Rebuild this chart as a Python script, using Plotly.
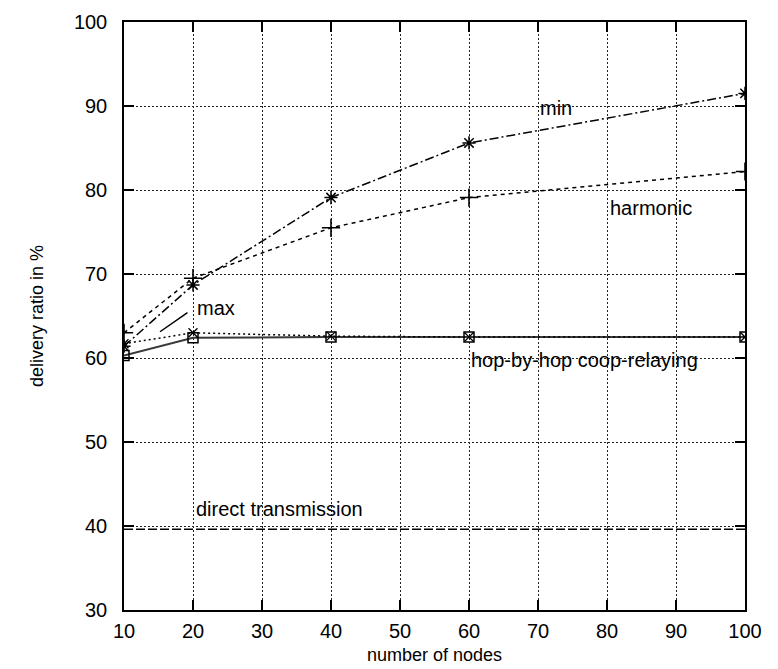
import plotly.graph_objects as go

nodes = [10, 20, 40, 60, 100]
min_vals = [61.4, 68.7, 79.1, 85.6, 91.5]
harmonic_vals = [63.0, 69.5, 75.5, 79.1, 82.2]
max_vals = [61.7, 63.0, 62.6, 62.5, 62.5]
hop_vals = [60.3, 62.4, 62.5, 62.5, 62.5]
direct_vals = [39.6, 39.6, 39.6, 39.6, 39.6]

x_ticks = [10, 20, 30, 40, 50, 60, 70, 80, 90, 100]
y_ticks = [30, 40, 50, 60, 70, 80, 90, 100]

FONT = "Liberation Sans, Arial, Helvetica, sans-serif"

fig = go.Figure()

fig.add_trace(go.Scatter(
    x=nodes, y=direct_vals, mode="lines",
    line=dict(color="black", width=1.5, dash="9px,3px"), showlegend=False))
fig.add_trace(go.Scatter(
    x=nodes, y=hop_vals, mode="lines+markers",
    line=dict(color="#3a3a3a", width=2),
    marker=dict(symbol="square-open", size=10, color="black", line=dict(width=1.5)),
    showlegend=False))
fig.add_trace(go.Scatter(
    x=nodes, y=max_vals, mode="lines+markers",
    line=dict(color="black", width=1.5, dash="2px,3px"),
    marker=dict(symbol="x-thin-open", size=9, color="black", line=dict(width=1.3)),
    showlegend=False))
fig.add_trace(go.Scatter(
    x=nodes, y=harmonic_vals, mode="lines+markers",
    line=dict(color="black", width=1.5, dash="4px,4px"),
    marker=dict(symbol="cross-thin-open", size=13, color="black", line=dict(width=1.6)),
    showlegend=False))
fig.add_trace(go.Scatter(
    x=nodes, y=min_vals, mode="lines+markers",
    line=dict(color="black", width=1.5, dash="9px,3px,2px,3px"),
    marker=dict(symbol="asterisk-open", size=11, color="black", line=dict(width=1.5)),
    showlegend=False))

label_font = dict(family=FONT, size=20, color="black")
annots = [
    dict(text="min", x=70, y=89.8),
    dict(text="harmonic", x=80.2, y=77.9),
    dict(text="max", x=20.3, y=66.0),
    dict(text="hop-by-hop coop-relaying", x=60, y=59.8),
    dict(text="direct transmission", x=20.2, y=42.0),
]
for a in annots:
    fig.add_annotation(text=a["text"], x=a["x"], y=a["y"], xref="x", yref="y",
                       xanchor="left", yanchor="middle", showarrow=False,
                       font=label_font)

# leader line for "max" label
fig.add_annotation(x=19.2, y=65.4, ax=15.0, ay=63.0, xref="x", yref="y",
                   axref="x", ayref="y", text="", showarrow=True,
                   arrowhead=0, arrowwidth=1.5, arrowcolor="black")

axis_common = dict(
    showline=True, linecolor="black", linewidth=1.5, mirror="allticks",
    ticks="inside", ticklen=10, tickwidth=1.5, tickcolor="black",
    showgrid=True, gridcolor="#222", gridwidth=1, griddash="2px,2px",
    zeroline=False, automargin=False,
    tickfont=dict(family=FONT, size=20, color="black"),
)

fig.update_xaxes(range=[10, 100], tickvals=x_ticks, ticklabelstandoff=2,
                 title=dict(text="number of nodes", font=dict(family=FONT, size=18, color="black"),
                            standoff=8),
                 **axis_common)
fig.update_yaxes(range=[30, 100], tickvals=y_ticks, ticklabelstandoff=11,
                 title=dict(text="delivery ratio in %", font=dict(family=FONT, size=18, color="black"),
                            standoff=26),
                 **axis_common)

fig.update_layout(
    template="none",
    width=778, height=669,
    margin=dict(l=116, r=41, t=14, b=67),
    plot_bgcolor="white", paper_bgcolor="white",
    font=dict(family=FONT, color="black"),
)

fig.write_html("out.html")
